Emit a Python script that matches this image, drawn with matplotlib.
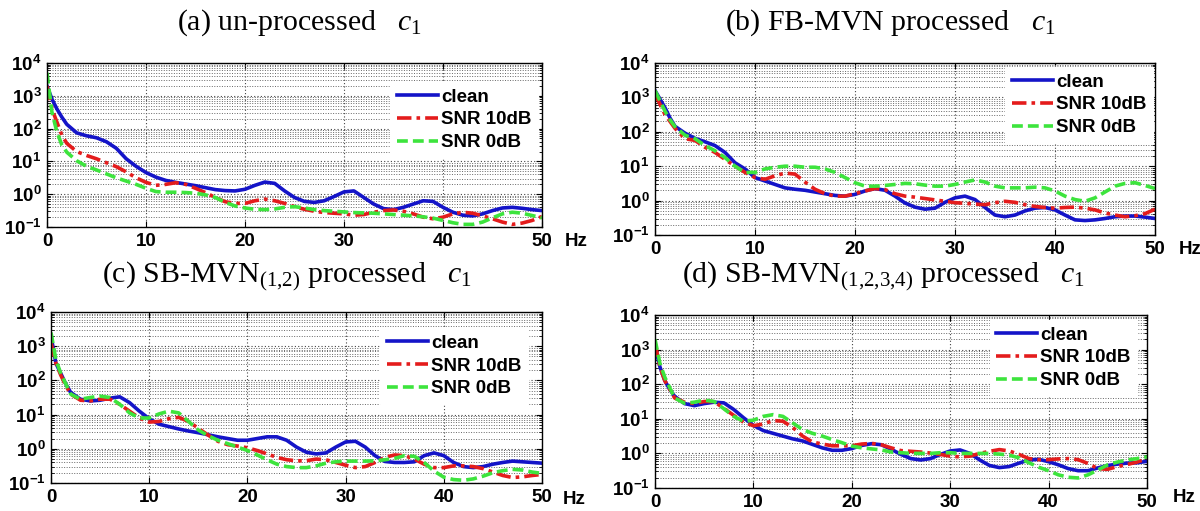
import matplotlib
matplotlib.use("Agg")
import numpy as np
import matplotlib.pyplot as plt
from matplotlib.ticker import FixedLocator, LogLocator, NullFormatter

plt.rcParams.update({
    "mathtext.fontset": "custom",
    "mathtext.rm": "Liberation Serif",
    "mathtext.it": "Liberation Serif:italic",
    "mathtext.bf": "Liberation Sans:bold",
    "font.family": "Liberation Sans",
})

# Modulation frequency (Hz)
FREQ_HZ = [0, 0.5, 1, 1.5, 2, 3, 4, 5, 6, 7, 8, 9, 10,
           11, 12, 13, 14, 15, 16, 17, 18, 19, 20,
           21, 22, 23, 24, 25, 26, 27, 28, 29, 30,
           31, 32, 33, 34, 35, 36, 37, 38, 39, 40,
           41, 42, 43, 44, 45, 46, 47, 48, 49, 50]

# log10 of the power spectral density of c1
A_CLEAN = [3.3, 2.9, 2.6, 2.35, 2.13, 1.87, 1.78, 1.72, 1.6, 1.4, 1.08, 0.85, 0.66,
           0.52, 0.42, 0.36, 0.31, 0.26, 0.2, 0.14, 0.11, 0.1, 0.15,
           0.27, 0.37, 0.33, 0.1, -0.1, -0.22, -0.25, -0.2, -0.07, 0.07,
           0.1, -0.1, -0.3, -0.44, -0.47, -0.4, -0.3, -0.2, -0.22, -0.4,
           -0.55, -0.64, -0.66, -0.6, -0.5, -0.42, -0.4, -0.43, -0.47, -0.5]
A_SNR10 = [3.3, 2.6, 2.2, 1.8, 1.55, 1.3, 1.18, 1.08, 0.96, 0.84, 0.68, 0.5, 0.36,
           0.27, 0.3, 0.35, 0.3, 0.18, 0.05, -0.1, -0.23, -0.28, -0.28,
           -0.2, -0.15, -0.2, -0.28, -0.38, -0.46, -0.52, -0.56, -0.58, -0.6,
           -0.64, -0.62, -0.55, -0.5, -0.48, -0.52, -0.6, -0.7, -0.75, -0.7,
           -0.6, -0.55, -0.58, -0.66, -0.75, -0.85, -0.92, -0.88, -0.8, -0.68]
A_SNR0 = [3.7, 2.5, 1.9, 1.5, 1.28, 1.02, 0.85, 0.74, 0.62, 0.5, 0.4, 0.3, 0.18,
          0.08, 0.06, 0.06, 0.05, 0.03, -0.02, -0.1, -0.25, -0.36, -0.42,
          -0.46, -0.47, -0.45, -0.4, -0.38, -0.42, -0.47, -0.5, -0.52, -0.54,
          -0.56, -0.57, -0.58, -0.6, -0.62, -0.64, -0.66, -0.69, -0.73, -0.8,
          -0.87, -0.92, -0.92, -0.85, -0.72, -0.6, -0.55, -0.58, -0.65, -0.72]

B_CLEAN = [3.2, 2.95, 2.7, 2.4, 2.16, 1.96, 1.81, 1.71, 1.6, 1.4, 1.1, 0.92, 0.67,
           0.57, 0.47, 0.37, 0.33, 0.3, 0.25, 0.2, 0.15, 0.13, 0.18,
           0.28, 0.35, 0.3, 0.13, -0.07, -0.19, -0.25, -0.22, -0.05, 0.08,
           0.13, 0.03, -0.2, -0.42, -0.47, -0.42, -0.3, -0.22, -0.2, -0.27,
           -0.42, -0.56, -0.58, -0.56, -0.52, -0.47, -0.45, -0.45, -0.48, -0.52]
B_SNR10 = [3.1, 2.8, 2.5, 2.3, 2.1, 1.8, 1.75, 1.55, 1.4, 1.2, 1.0, 0.82, 0.67,
           0.62, 0.72, 0.8, 0.77, 0.54, 0.33, 0.2, 0.13, 0.13, 0.2,
           0.28, 0.35, 0.32, 0.2, 0.13, 0.1, 0.06, 0.02, -0.02, -0.06,
           -0.08, -0.1, -0.12, -0.06, -0.02, -0.05, -0.12, -0.17, -0.2, -0.22,
           -0.2, -0.19, -0.22, -0.27, -0.36, -0.42, -0.47, -0.44, -0.38, -0.25]
B_SNR0 = [3.2, 2.9, 2.6, 2.35, 2.15, 1.9, 1.8, 1.6, 1.45, 1.25, 1.0, 0.82, 0.82,
          0.92, 0.97, 1.0, 1.0, 0.97, 0.97, 0.92, 0.82, 0.67, 0.52,
          0.42, 0.42, 0.44, 0.47, 0.5, 0.49, 0.45, 0.42, 0.42, 0.47,
          0.54, 0.6, 0.54, 0.42, 0.37, 0.37, 0.37, 0.39, 0.37, 0.28,
          0.13, 0.03, -0.02, 0.08, 0.25, 0.42, 0.5, 0.52, 0.44, 0.35]

C_CLEAN = [3.3, 2.5, 2.2, 1.9, 1.65, 1.45, 1.4, 1.42, 1.48, 1.52, 1.35, 1.1, 0.88,
           0.72, 0.65, 0.58, 0.52, 0.47, 0.41, 0.35, 0.3, 0.25, 0.25,
           0.3, 0.35, 0.35, 0.25, 0.05, -0.1, -0.15, -0.12, 0.05, 0.2,
           0.22, 0.05, -0.2, -0.37, -0.4, -0.4, -0.38, -0.2, -0.12, -0.2,
           -0.4, -0.52, -0.55, -0.52, -0.45, -0.4, -0.36, -0.38, -0.4, -0.42]
C_SNR10 = [3.1, 2.5, 2.15, 1.85, 1.6, 1.42, 1.4, 1.45, 1.45, 1.3, 1.1, 0.9, 0.78,
           0.8, 0.88, 0.92, 0.8, 0.6, 0.4, 0.22, 0.12, 0.08, 0.03,
           -0.05, -0.15, -0.25, -0.32, -0.35, -0.35, -0.3, -0.32, -0.4, -0.48,
           -0.55, -0.52, -0.4, -0.25, -0.18, -0.2, -0.3, -0.45, -0.55, -0.55,
           -0.5, -0.5, -0.52, -0.58, -0.68, -0.78, -0.84, -0.82, -0.78, -0.75]
C_SNR0 = [3.4, 2.6, 2.2, 1.9, 1.6, 1.45, 1.5, 1.54, 1.5, 1.3, 1.05, 0.9, 0.9,
          1.02, 1.1, 1.05, 0.8, 0.55, 0.38, 0.25, 0.15, 0.05, -0.05,
          -0.18, -0.32, -0.45, -0.52, -0.55, -0.55, -0.5, -0.42, -0.38, -0.36,
          -0.36, -0.36, -0.35, -0.32, -0.28, -0.2, -0.22, -0.4, -0.65, -0.83,
          -0.9, -0.92, -0.88, -0.8, -0.7, -0.64, -0.6, -0.62, -0.68, -0.72]

D_CLEAN = [3.1, 2.5, 2.1, 1.85, 1.65, 1.44, 1.38, 1.44, 1.48, 1.46, 1.27, 1.03, 0.81,
           0.66, 0.58, 0.5, 0.42, 0.36, 0.26, 0.16, 0.09, 0.09, 0.14,
           0.23, 0.28, 0.25, 0.12, -0.03, -0.15, -0.19, -0.15, -0.03, 0.07,
           0.1, 0.0, -0.19, -0.35, -0.41, -0.38, -0.28, -0.19, -0.17, -0.24,
           -0.33, -0.44, -0.5, -0.5, -0.42, -0.35, -0.31, -0.28, -0.27, -0.23]
D_SNR10 = [3.2, 2.5, 2.1, 1.85, 1.6, 1.48, 1.44, 1.5, 1.5, 1.3, 1.1, 0.9, 0.8,
           0.85, 0.95, 0.93, 0.75, 0.5, 0.33, 0.27, 0.22, 0.22, 0.22,
           0.27, 0.29, 0.25, 0.16, 0.08, 0.06, 0.04, 0.01, -0.03, -0.08,
           -0.1, -0.08, 0.0, 0.06, 0.11, 0.07, -0.03, -0.15, -0.18, -0.18,
           -0.16, -0.15, -0.18, -0.29, -0.44, -0.46, -0.38, -0.32, -0.25, -0.15]
D_SNR0 = [3.3, 2.6, 2.2, 1.9, 1.6, 1.45, 1.48, 1.54, 1.5, 1.29, 1.07, 0.93, 0.96,
          1.07, 1.12, 1.07, 0.88, 0.69, 0.58, 0.5, 0.4, 0.31, 0.21,
          0.16, 0.13, 0.1, 0.04, 0.02, 0.0, 0.0, 0.0, 0.02, 0.02,
          0.0, 0.0, 0.0, 0.0, -0.02, -0.05, -0.13, -0.27, -0.4, -0.5,
          -0.62, -0.69, -0.71, -0.62, -0.48, -0.33, -0.25, -0.19, -0.15, -0.1]

SERIES_LABELS = ["clean", "SNR 10dB", "SNR 0dB"]
TITLES = [
    r"(a) un-processed   $c_1$",
    r"(b) FB-MVN processed   $c_1$",
    r"(c) SB-MVN$_{(1{,}2)}$ processed   $c_1$",
    r"(d) SB-MVN$_{(1{,}2{,}3{,}4)}$ processed   $c_1$",
]
X_TICKS = [0, 10, 20, 30, 40, 50]
Y_TICKS = [1e-1, 1e0, 1e1, 1e2, 1e3, 1e4]
Y_TICK_LABELS = [r"$\mathbf{10^{-1}}$", r"$\mathbf{10^{0}}$", r"$\mathbf{10^{1}}$",
                 r"$\mathbf{10^{2}}$", r"$\mathbf{10^{3}}$", r"$\mathbf{10^{4}}$"]

PANELS = [
    (A_CLEAN, A_SNR10, A_SNR0),
    (B_CLEAN, B_SNR10, B_SNR0),
    (C_CLEAN, C_SNR10, C_SNR0),
    (D_CLEAN, D_SNR10, D_SNR0),
]

W, H = 1200, 511
fig = plt.figure(figsize=(W / 100, H / 100), dpi=100)
fig.patch.set_facecolor("white")

# axes boxes in pixels: left, right, top, bottom
boxes = [(47, 542, 63, 227), (655, 1155, 63, 235),
         (51, 542, 312, 483), (655, 1147, 315, 488)]
legend_anchor = [(0.992, 0.884), (0.996, 0.977), (0.971, 0.906), (0.98, 0.971)]
title_pos = [(300, 23), (890, 23), (287, 276), (883, 276)]
hz_pos = [(576, 241), (1190, 249), (574, 500), (1184, 497)]

styles = [
    dict(color="#1414c8", linestyle="-", lw=2.6),
    dict(color="#e41c1c", linestyle=(0, (4.0, 1.4, 1.0, 1.4)), lw=2.6),
    dict(color="#3de43d", linestyle=(0, (3.0, 1.4)), lw=2.6),
]

f = np.array(FREQ_HZ)
for i, (series, (l, r, t, b)) in enumerate(zip(PANELS, boxes)):
    ax = fig.add_axes([l / W, (H - b) / H, (r - l) / W, (b - t) / H])
    for vals, lab, st in zip(series, SERIES_LABELS, styles):
        ax.plot(f, 10 ** np.array(vals), label=lab, **st)
    ax.set_yscale("log")
    ax.set_xlim(0, 50)
    ax.set_ylim(1e-1, 1e4)
    ax.xaxis.set_major_locator(FixedLocator(X_TICKS))
    ax.set_xticklabels([str(v) for v in X_TICKS], fontweight="bold", fontsize=13.5)
    ax.yaxis.set_major_locator(FixedLocator(Y_TICKS))
    ax.set_yticklabels(Y_TICK_LABELS, fontsize=13.5)
    ax.yaxis.set_minor_locator(LogLocator(base=10, subs=np.arange(2, 10), numticks=20))
    ax.yaxis.set_minor_formatter(NullFormatter())
    ax.tick_params(which="both", direction="in", top=True, right=True, colors="black")
    ax.tick_params(which="major", length=4, width=0.8, pad=4)
    ax.tick_params(which="minor", length=2, width=0.6)
    ax.grid(True, which="major", linestyle=(0, (1, 2)), color="#444444", lw=0.8)
    ax.grid(True, which="minor", axis="y", linestyle=(0, (1, 1.6)), color="#666666", lw=0.7)
    for sp in ax.spines.values():
        sp.set_linewidth(1.0)
        sp.set_color("black")
    ax.legend(loc="upper right", bbox_to_anchor=legend_anchor[i],
              prop=dict(family="Liberation Sans", weight="bold", size=13.5),
              handlelength=2.2, handletextpad=0.15, labelspacing=0.3,
              borderpad=0.35, borderaxespad=0.0, fancybox=False,
              framealpha=1.0, edgecolor="white", facecolor="white")
    tx, ty = title_pos[i]
    fig.text(tx / W, 1 - ty / H, TITLES[i], ha="center", va="center",
             fontsize=21.5, family="Liberation Serif")
    hx, hy = hz_pos[i]
    fig.text(hx / W, 1 - hy / H, "Hz", ha="center", va="center",
             fontsize=13.5, fontweight="bold")

fig.savefig("out.png", dpi=100, facecolor="white")
